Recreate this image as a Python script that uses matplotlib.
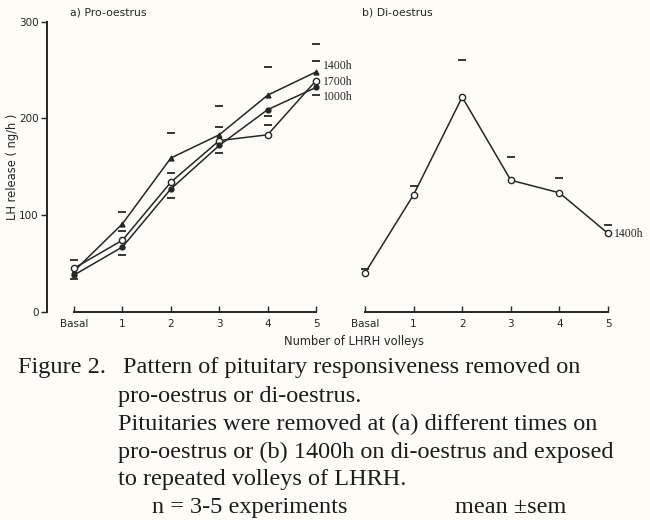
import matplotlib
matplotlib.use("Agg")
import matplotlib.pyplot as plt
import numpy as np

# ---- data ----
categories = ["Basal", "1", "2", "3", "4", "5"]
pro_1400 = [42, 91, 159, 183, 224, 248]
pro_1700 = [45, 74, 134, 177, 183, 239]
pro_1000 = [38, 67, 127, 172, 209, 232]
# error caps (mean +/- sem, only one side visible in the original)
pro_1400_cap = [np.nan, 103, 185, 213, 253, 277]
pro_1700_cap = [53, 83, 144, 191, 193, 259]
pro_1000_cap = [34, 59, 118, 164, 202, 224]
di_1400 = [40, 121, 222, 136, 123, 81]
di_1400_cap = [44, 130, 260, 160, 138, 90]
yticks = [0, 100, 200, 300]

ink = "#262626"
bg = "#fdfcf6"
sans = ["Liberation Sans Narrow", "DejaVu Sans"]
serif = ["Liberation Serif", "DejaVu Serif"]

fig = plt.figure(figsize=(6.5, 5.2), dpi=100, facecolor=bg)
x = np.arange(len(categories))

def style_x(ax):
    ax.set_xticks(x)
    ax.set_xticklabels(categories, fontsize=7.5, family=sans, color=ink)
    ax.tick_params(axis="x", direction="in", length=4, width=1, colors=ink, pad=5)
    ax.spines["bottom"].set_bounds(0, 5)
    ax.spines["bottom"].set_linewidth(1.4)
    ax.spines["bottom"].set_color(ink)
    ax.spines["top"].set_visible(False)
    ax.spines["right"].set_visible(False)
    ax.set_facecolor("none")

# panel a
ax1 = fig.add_axes([47 / 650, 1 - 311.7 / 520, 269 / 650, 290 / 520])
ax1.set_xlim(-0.56, 5.0)
ax1.set_ylim(0, 300)
style_x(ax1)
ax1.spines["left"].set_linewidth(1.4)
ax1.spines["left"].set_color(ink)
ax1.set_yticks(yticks)
ax1.set_yticklabels([str(v) for v in yticks], fontsize=7.5, family=sans, color=ink)
ax1.tick_params(axis="y", direction="out", length=4, width=1, colors=ink, pad=2)

lw = 1.1
ax1.plot(x, pro_1400, color=ink, lw=lw, marker="^", ms=3.5, mfc=ink, clip_on=False)
ax1.plot(x, pro_1700, color=ink, lw=lw, marker="o", ms=4.5, mfc="white", clip_on=False)
ax1.plot(x, pro_1000, color=ink, lw=lw, marker="o", ms=3.5, mfc=ink, clip_on=False)
for caps in (pro_1400_cap, pro_1700_cap, pro_1000_cap):
    ax1.plot(x, caps, ls="none", marker="_", ms=6, mew=1.3, color=ink, clip_on=False)

ax1.text(5.15, 254, "1400h", fontsize=8.5, family=serif, color=ink, va="center")
ax1.text(5.15, 238, "1700h", fontsize=8.5, family=serif, color=ink, va="center")
ax1.text(5.15, 222, "1000h", fontsize=8.5, family=serif, color=ink, va="center")
ax1.text(-0.08, 304, "a) Pro-oestrus", fontsize=7.8, family=sans, color=ink, va="bottom")
ax1.set_ylabel("LH release ( ng/h )", fontsize=8.3, family=sans, color=ink)
ax1.yaxis.set_label_coords(-0.105, 0.5)

# panel b
ax2 = fig.add_axes([365 / 650, 1 - 311.7 / 520, 243 / 650, 290 / 520])
ax2.set_xlim(0, 5)
ax2.set_ylim(0, 300)
style_x(ax2)
ax2.spines["left"].set_visible(False)
ax2.set_yticks([])
ax2.plot(x, di_1400, color=ink, lw=lw, marker="o", ms=4.5, mfc="white", clip_on=False)
ax2.plot(x, di_1400_cap, ls="none", marker="_", ms=6, mew=1.3, color=ink, clip_on=False)
ax2.text(5.12, 80, "1400h", fontsize=8.5, family=serif, color=ink, va="center")
ax2.text(-0.06, 304, "b) Di-oestrus", fontsize=7.8, family=sans, color=ink, va="bottom")

fig.text(354 / 650, 1 - 342 / 520, "Number of LHRH volleys", fontsize=8.3,
         family=sans, color=ink, ha="center", va="center")

# caption
cap_fs = 17.5
cap_ink = "#1c1c1c"
fig.text(18 / 650, 1 - 373 / 520, "Figure 2.", fontsize=cap_fs, family=serif,
         color=cap_ink, va="baseline")
lines = [
    (123, 373, "Pattern of pituitary responsiveness removed on"),
    (118, 402, "pro-oestrus or di-oestrus."),
    (118, 430, "Pituitaries were removed at (a) different times on"),
    (118, 458, "pro-oestrus or (b) 1400h on di-oestrus and exposed"),
    (118, 485, "to repeated volleys of LHRH."),
    (152, 513, "n = 3-5 experiments"),
    (455, 513, "mean \u00b1sem"),
]
for lx, ly, t in lines:
    fig.text(lx / 650, 1 - ly / 520, t, fontsize=cap_fs, family=serif,
             color=cap_ink, va="baseline")

fig.savefig("out.png", dpi=100, facecolor=bg)
